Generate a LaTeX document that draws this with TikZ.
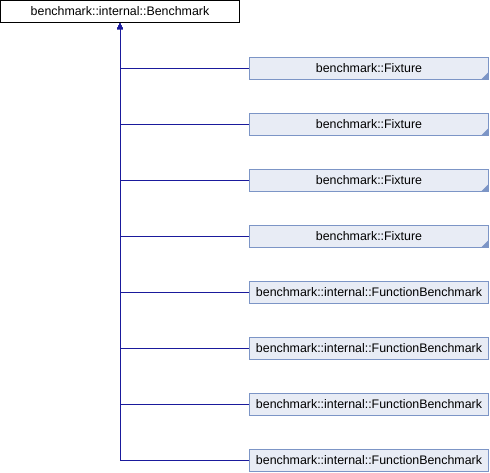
\documentclass[tikz,border=0pt]{standalone}
\usepackage{fontspec}
\setmainfont{Liberation Sans}
\usetikzlibrary{arrows.meta}
\definecolor{edgeblue}{HTML}{1A1A9C}
\definecolor{boxborder}{HTML}{7C95C6}
\definecolor{boxfill}{HTML}{E8ECF5}
\tikzset{
  basebox/.style={draw=black, fill=white, line width=1pt, minimum width=239pt, minimum height=22pt, inner sep=0pt, font=\fontsize{12.4}{14}\selectfont},
  childbox/.style={draw=boxborder, fill=boxfill, line width=1pt, minimum width=239pt, minimum height=22pt, inner sep=0pt, font=\fontsize{12.4}{14}\selectfont},
  inherit/.style={draw=edgeblue, line width=1pt, -{Triangle[length=6pt,width=5.5pt]}},
  corner/.style={fill=boxborder, draw=none}
}
\begin{document}
\begin{tikzpicture}[x=1pt,y=-1pt]
\useasboundingbox (0,0) rectangle (490,472);
\node[basebox] (top) at (120,11.5) {benchmark::internal::Benchmark};
\foreach \i/\c/\t in {1/68/benchmark::Fixture,2/124/benchmark::Fixture,3/180/benchmark::Fixture,4/236/benchmark::Fixture,5/292/benchmark::internal::FunctionBenchmark,6/348/benchmark::internal::FunctionBenchmark,7/404/benchmark::internal::FunctionBenchmark,8/460/benchmark::internal::FunctionBenchmark}{
  \node[childbox] (c\i) at (369,\c) {\t};
}
\foreach \i in {1,2,3,4}{
  \fill[boxborder] ([xshift=-0.5pt,yshift=0.5pt]c\i.south east) -- ++(0,-7) -- ++(-7,7) -- cycle;
}
\foreach \i in {1,...,8}{
  \draw[inherit] (c\i.west) -| (top.south);
}
\end{tikzpicture}
\end{document}
